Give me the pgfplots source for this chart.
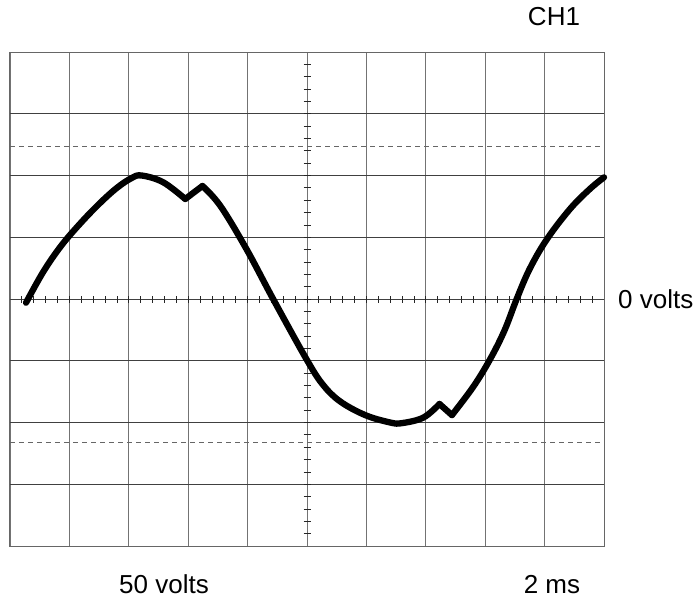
\documentclass[border=0pt]{standalone}
\usepackage{pgfplots}
\pgfplotsset{compat=1.18}
\usepackage{fontspec}
\setmainfont{Liberation Sans}
\begin{document}
\begin{tikzpicture}
\useasboundingbox (0pt,0pt) rectangle (699pt,598pt);
\begin{axis}[
  at={(10pt,52pt)}, anchor=south west,
  scale only axis, width=594pt, height=494pt,
  xmin=0, xmax=10, ymin=-4, ymax=4,
  xtick={0,...,10}, ytick={-4,...,4},
  xticklabels={}, yticklabels={},
  major tick length=0pt,
  grid=major,
  x grid style={black!55, line width=0.9pt},
  y grid style={black!75, line width=0.9pt},
  axis line style={black!60, line width=1pt},
  clip=false,
  wave/.style={black, line width=6.3pt, line cap=round, line join=round},
]
% center cross ticks
\pgfplotsinvokeforeach{0.2,0.4,...,9.8}{
  \draw[black!85, line width=0.8pt] (axis cs:#1,0) ++(0pt,-3.5pt) -- ++(0pt,7pt);
}
\pgfplotsinvokeforeach{-3.8,-3.6,...,3.8}{
  \draw[black!85, line width=0.8pt] (axis cs:5,#1) ++(-3.5pt,0pt) -- ++(7pt,0pt);
}
% dashed reference lines
\draw[black!60, line width=0.9pt, dash pattern=on 5pt off 4pt] (axis cs:0,2.47) -- (axis cs:10,2.47);
\draw[black!60, line width=0.9pt, dash pattern=on 5pt off 4pt] (axis cs:0,-2.32) -- (axis cs:10,-2.32);
% waveform
\addplot[wave, smooth, tension=0.6] coordinates {
  (0.27,-0.06) (0.56,0.44) (0.86,0.86) (1.18,1.22) (1.50,1.54) (1.80,1.80)
  (2.05,1.96) (2.22,2.00) (2.58,1.89) (2.95,1.62)
};
\addplot[wave] coordinates {(2.95,1.62) (3.24,1.83)};
\addplot[wave, smooth, tension=0.6] coordinates {
  (3.24,1.83) (3.54,1.51) (3.98,0.81) (4.43,0.00) (5.00,-0.99) (5.27,-1.39)
  (5.56,-1.66) (5.98,-1.88) (6.40,-2.00) (6.60,-2.01) (6.96,-1.92) (7.23,-1.70)
};
\addplot[wave] coordinates {(7.23,-1.70) (7.44,-1.88)};
\addplot[wave, smooth, tension=0.6] coordinates {
  (7.44,-1.88) (7.80,-1.42) (8.08,-0.98) (8.32,-0.52) (8.53,0.00) (8.75,0.49)
  (9.04,0.97) (9.43,1.46) (9.76,1.78) (10.00,1.97)
};
\end{axis}
\begin{scope}[every node/.style={inner sep=0pt, font=\fontsize{26}{30}\selectfont}]
\node[anchor=base] at (554pt,572pt) {CH1};
\node[anchor=base west] at (618pt,290pt) {0 volts};
\node[anchor=base] at (164pt,5pt) {50 volts};
\node[anchor=base] at (552pt,5pt) {2 ms};
\end{scope}
\end{tikzpicture}
\end{document}
